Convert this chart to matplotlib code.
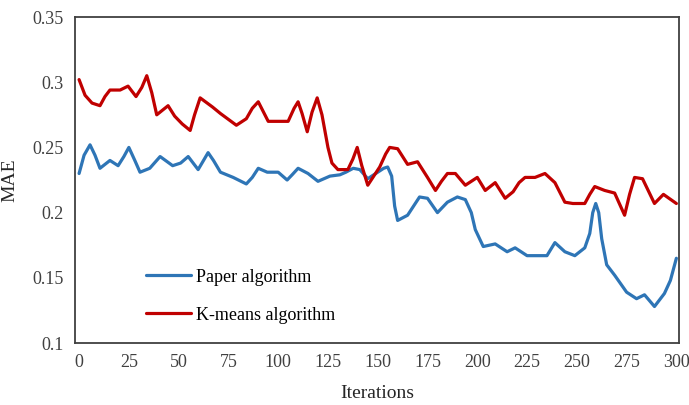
import matplotlib.pyplot as plt

plt.rcParams['font.family'] = ['Liberation Serif', 'DejaVu Serif']

# Paper algorithm (blue)
paper_x = [0, 2.5, 5.5, 8, 10.5, 15.5, 19.6, 22.5, 25, 28, 30.6, 35.5, 40.7, 47,
           51, 54.8, 59.8, 62.5, 64.8, 67.5, 71, 77.4, 84, 87, 90, 94.5, 100,
           104.5, 107, 110, 115, 120, 126, 131, 134, 137.7, 141, 145, 150, 153,
           155, 157, 158.5, 160, 165, 171, 175, 180, 185, 190, 194, 197, 199, 203,
           209, 215, 219, 225, 235, 239, 244, 249, 254, 256.5, 258, 259.5, 261,
           262.5, 265, 269, 275, 280, 284, 289, 294, 297, 300]
paper_y = [0.230, 0.244, 0.252, 0.244, 0.234, 0.240, 0.236, 0.243, 0.250, 0.240,
           0.231, 0.234, 0.243, 0.236, 0.238, 0.243, 0.233, 0.240, 0.246, 0.240,
           0.231, 0.227, 0.222, 0.227, 0.234, 0.231, 0.231, 0.225, 0.229, 0.234,
           0.230, 0.224, 0.228, 0.229, 0.231, 0.234, 0.233, 0.226, 0.231, 0.234,
           0.235, 0.228, 0.205, 0.194, 0.198, 0.212, 0.211, 0.200, 0.208, 0.212,
           0.210, 0.200, 0.187, 0.174, 0.176, 0.170, 0.173, 0.167, 0.167, 0.177,
           0.170, 0.167, 0.173, 0.184, 0.200, 0.207, 0.200, 0.180, 0.160, 0.152,
           0.139, 0.134, 0.137, 0.128, 0.138, 0.148, 0.165]

# K-means algorithm (red)
kmeans_x = [0, 3, 6.5, 10.5, 13, 15.5, 20.6, 24.6, 28.6, 31.5, 34, 36.5, 39,
            44.7, 48, 51.8, 55.8, 58, 60.8, 67, 71, 79, 84, 87, 90, 95, 105, 108,
            110, 112, 114.6, 117, 119.6, 122, 125, 127, 130, 135, 137.5, 139.7,
            142, 145, 151, 154, 156, 160, 165, 170, 175, 179, 182, 185, 189, 194,
            200, 204, 209, 214, 218, 221, 224, 229, 234, 239, 244, 248, 254, 256.5,
            259, 264, 269, 274, 276.5, 279, 283, 289, 293.5, 300]
kmeans_y = [0.302, 0.290, 0.284, 0.282, 0.289, 0.294, 0.294, 0.297, 0.289, 0.296,
            0.305, 0.292, 0.275, 0.282, 0.274, 0.268, 0.263, 0.275, 0.288, 0.281,
            0.276, 0.267, 0.272, 0.280, 0.285, 0.270, 0.270, 0.280, 0.285, 0.276,
            0.262, 0.277, 0.288, 0.275, 0.250, 0.238, 0.233, 0.233, 0.241, 0.250,
            0.236, 0.221, 0.235, 0.245, 0.250, 0.249, 0.237, 0.239, 0.227, 0.217,
            0.224, 0.230, 0.230, 0.221, 0.227, 0.217, 0.223, 0.211, 0.216, 0.223,
            0.227, 0.227, 0.230, 0.223, 0.208, 0.207, 0.207, 0.214, 0.220, 0.217,
            0.215, 0.198, 0.214, 0.227, 0.226, 0.207, 0.214, 0.207]

x_ticks = [0, 25, 50, 75, 100, 125, 150, 175, 200, 225, 250, 275, 300]
y_ticks = [0.1, 0.15, 0.2, 0.25, 0.3, 0.35]
y_labels = ['0.1', '0.15', '0.2', '0.25', '0.3', '0.35']

fig = plt.figure(figsize=(6.89, 4.05), dpi=100)
ax = fig.add_axes([0.109, 0.153, 0.877, 0.805])

ax.plot(paper_x, paper_y, color='#2e75b6', lw=2.3, solid_joinstyle='round',
        solid_capstyle='round', label='Paper algorithm')
ax.plot(kmeans_x, kmeans_y, color='#c00000', lw=2.3, solid_joinstyle='round',
        solid_capstyle='round', label='K-means algorithm')

ax.set_xlim(-2, 301.5)
ax.set_ylim(0.1, 0.35)
ax.set_xticks(x_ticks)
ax.set_yticks(y_ticks)
ax.set_yticklabels(y_labels)
ax.tick_params(length=0, labelsize=13, colors='#404040', pad=8)
for s in ax.spines.values():
    s.set_color('#404040')
    s.set_linewidth(1.3)

ax.set_xlabel('Iterations', fontsize=14, color='#262626', labelpad=10)
ax.set_ylabel('MAE', fontsize=14, color='#262626', labelpad=10)

ax.legend(loc='lower left', bbox_to_anchor=(0.091, 0.01), frameon=False,
          fontsize=13, handlelength=2.45, handletextpad=0.3, labelspacing=1.15)

fig.savefig('out.png', dpi=100)
